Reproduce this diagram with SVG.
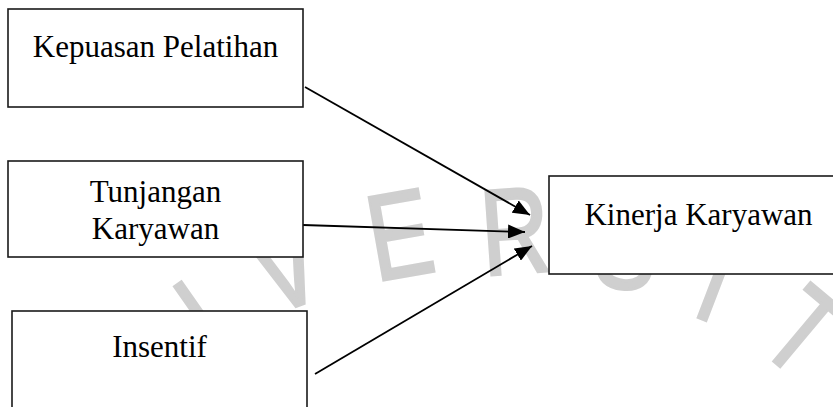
<svg xmlns="http://www.w3.org/2000/svg" width="833" height="407" viewBox="0 0 833 407">
  <defs>
    <style>
      .box { fill: #ffffff; stroke: #1a1a1a; stroke-width: 1.6; }
      .lbl { font-family: "Liberation Serif", "Times New Roman", serif; font-size: 31px; fill: #000000; text-anchor: middle; }
      .wm { font-family: "Liberation Sans", Arial, sans-serif; font-size: 122px; fill: #cfcfcf; stroke: #cfcfcf; stroke-width: 3; text-anchor: middle; }
      .conn { stroke: #000000; stroke-width: 1.8; fill: none; marker-end: url(#arrow); }
    </style>
    <marker id="arrow" markerUnits="userSpaceOnUse" markerWidth="17" markerHeight="14" refX="17" refY="7" orient="auto">
      <path d="M0,0 L17,7 L0,14 z" fill="#000000"/>
    </marker>
  </defs>
  <rect width="833" height="407" fill="#ffffff"/>

  <g id="watermark">
    <text class="wm" transform="translate(226,353) rotate(-35) scale(0.78,1)">I</text>
    <text class="wm" transform="translate(300,305) rotate(-20) scale(0.78,1)">V</text>
    <text class="wm" transform="translate(407,276) rotate(-10) scale(0.78,1)">E</text>
    <text class="wm" transform="translate(518,273) rotate(-4) scale(0.78,1)">R</text>
    <text class="wm" transform="translate(622,288) rotate(6) scale(0.78,1)">S</text>
    <text class="wm" transform="translate(702,319) rotate(21) scale(0.78,1)">I</text>
    <text class="wm" transform="translate(777,364) rotate(40) scale(0.78,1)">T</text>
  </g>

  <g id="connectors">
    <line class="conn" x1="305" y1="87" x2="530" y2="215"/>
    <line class="conn" x1="303" y1="225" x2="525" y2="232"/>
    <line class="conn" x1="315" y1="374" x2="532" y2="246"/>
  </g>

  <g id="kepuasan-pelatihan">
    <rect class="box" x="8" y="9" width="295" height="98"/>
    <text class="lbl" x="155.5" y="57">Kepuasan Pelatihan</text>
  </g>

  <g id="tunjangan-karyawan">
    <rect class="box" x="8" y="161" width="295" height="96"/>
    <text class="lbl" x="155.5" y="202">Tunjangan</text>
    <text class="lbl" x="155.5" y="239">Karyawan</text>
  </g>

  <g id="insentif">
    <rect class="box" x="12" y="311" width="295" height="110"/>
    <text class="lbl" x="159.5" y="357">Insentif</text>
  </g>

  <g id="kinerja-karyawan">
    <rect class="box" x="549" y="176" width="300" height="98"/>
    <text class="lbl" x="698.5" y="225">Kinerja Karyawan</text>
  </g>
</svg>
